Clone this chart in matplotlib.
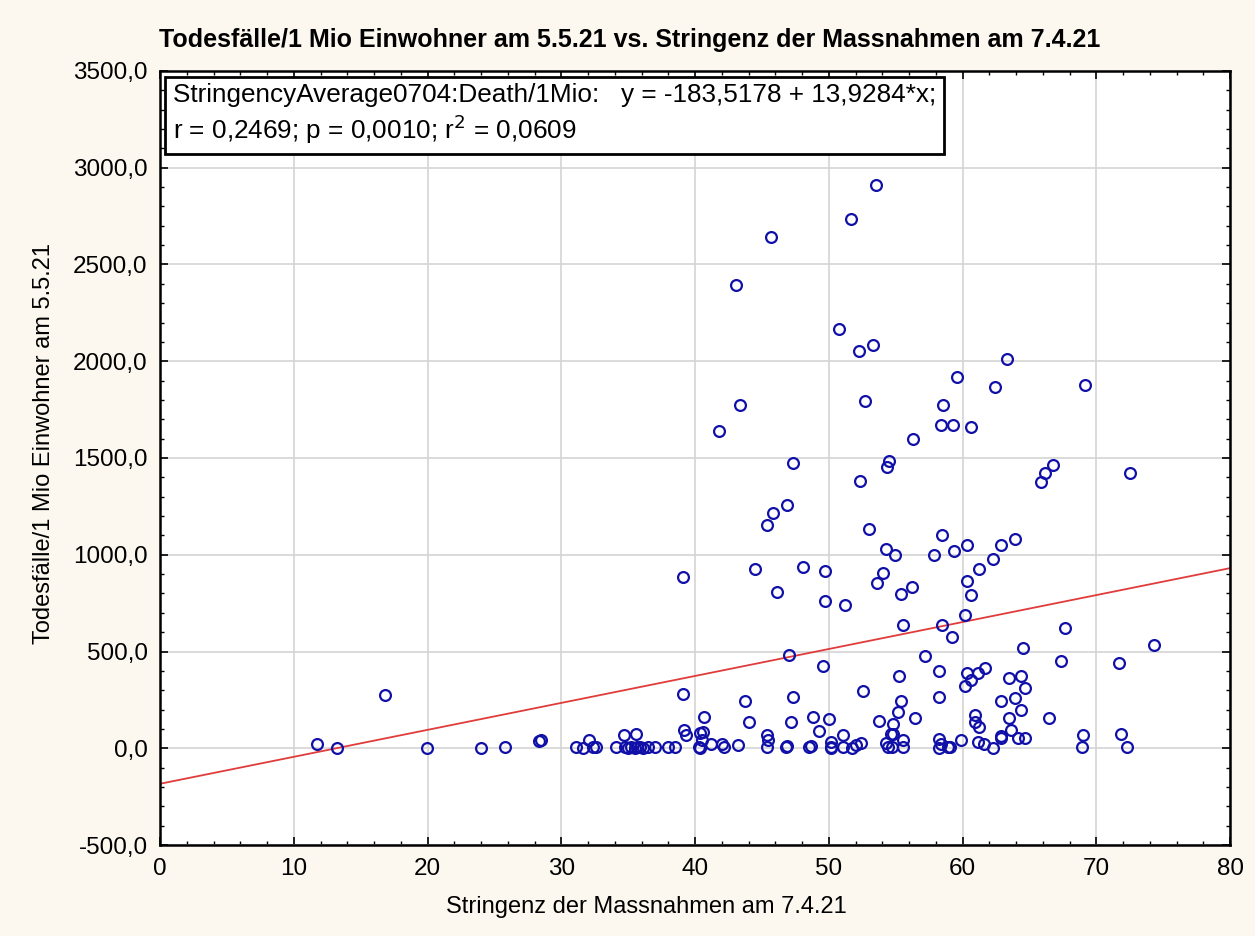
import numpy as np
import matplotlib
matplotlib.use("Agg")
import matplotlib.pyplot as plt
from matplotlib.ticker import MultipleLocator, FuncFormatter

plt.rcParams['font.family'] = ['Liberation Sans', 'DejaVu Sans']

# Stringenz der Massnahmen am 7.4.21
stringency = [
    11.7, 13.2, 16.8, 19.95, 24.0, 25.8, 28.3, 28.5,
    31.1, 31.6, 32.1, 32.4, 32.6, 34.1, 34.7, 34.8, 35.0, 35.2, 35.5, 35.6, 35.65,
    35.9, 36.1, 36.5, 37.0, 38.0, 38.5, 39.1, 39.1, 39.2, 39.35,
    40.3, 40.4, 40.4, 40.5, 40.6, 40.7, 41.2, 41.8, 42.0, 42.2, 43.1, 43.2, 43.4,
    43.7, 44.0, 44.5, 45.35, 45.4, 45.4, 45.45, 45.7, 45.8, 46.1, 46.8, 46.9,
    46.85, 47.0, 47.2, 47.3, 47.3, 48.1, 48.5, 48.7, 48.8, 49.3, 49.6, 49.7,
    49.7, 50.0, 50.2, 50.2, 50.2, 50.75, 51.05, 51.05, 51.25, 51.65, 51.7,
    52.05, 52.25, 52.3, 52.4, 52.55, 52.7, 53.0, 53.3, 53.5, 53.6, 53.75,
    54.05, 54.25, 54.25, 54.35, 54.4, 54.5, 54.65, 54.7, 54.8, 54.8, 54.95,
    55.2, 55.25, 55.4, 55.4, 55.55, 55.55, 55.55, 56.2, 56.3, 56.45, 57.2,
    57.9, 58.25, 58.25, 58.25, 58.4, 58.25, 58.5, 58.5, 58.55, 58.4, 58.9,
    59.05, 59.25, 59.3, 59.35, 59.6, 59.9, 60.15, 60.2, 60.3, 60.35, 60.35,
    60.65, 60.65, 60.65, 60.95, 60.9, 61.15, 61.15, 61.2, 61.25, 61.6, 61.7,
    62.3, 62.3, 62.4, 62.85, 62.85, 62.9, 62.9, 63.3, 63.5, 63.5, 63.6, 63.95,
    63.95, 64.15, 64.35, 64.4, 64.5, 64.7, 64.7, 65.85, 66.2, 66.45, 66.8,
    67.4, 67.65, 68.9, 69.0, 69.15, 71.7, 71.85, 72.3, 72.5, 74.3,
]

# Todesfälle/1 Mio Einwohner am 5.5.21
deaths = [
    24, 0, 275, 0, 0, 7, 38, 45,
    7, 0, 41, 7, 7, 7, 67, 7, 0, 7, 0, 76, 7,
    7, 0, 7, 7, 7, 7, 883, 281, 93, 67,
    7, 77, 0, 41, 84, 160, 24, 1639, 24, 7, 2395, 15, 1773,
    244, 138, 926, 7, 67, 1152, 41, 2643, 1215, 809, 7, 12,
    1257, 480, 138, 1474, 265, 935, 7, 12, 159, 88, 427, 914,
    759, 150, 33, 7, 0, 2166, 67, 7, 739, 2736, 0,
    15, 2052, 1380, 27, 296, 1794, 1131, 2085, 2913, 852, 139,
    904, 1029, 27, 1453, 7, 1484, 76, 7, 127, 76, 997,
    188, 375, 799, 243, 635, 41, 7, 833, 1600, 158, 479,
    997, 265, 50, 0, 1668, 398, 1100, 635, 1773, 24, 7,
    7, 573, 1668, 1019, 1918, 45, 323, 687, 1048, 863, 390,
    1660, 790, 355, 170, 136, 389, 33, 110, 925, 24, 416,
    976, 0, 1866, 1048, 62, 55, 243, 2011, 365, 158, 96, 1079,
    262, 55, 200, 375, 520, 313, 55, 1377, 1420, 158, 1463,
    449, 623, 4, 67, 1879, 439, 76, 4, 1422, 532,
]

# Regression: y = -183,5178 + 13,9284*x
intercept = -183.5178
slope = 13.9284
fit_x = [0, 80]

fig = plt.figure(figsize=(12.55, 9.36), dpi=100, facecolor='#fcf8ef')
ax = fig.add_axes([0.1275, 0.0972, 0.8526, 0.827])
ax.set_facecolor('white')

fit_y = [intercept + slope * v for v in fit_x]
ax.plot(fit_x, fit_y, color='#e03c3c', linewidth=1.3, zorder=2)
ax.plot(stringency, deaths, linestyle='none', marker='o', markersize=7.8,
        markerfacecolor='none', markeredgecolor='#1010a8', markeredgewidth=1.6, zorder=3)

ax.set_xlim(0, 80)
ax.set_ylim(-500, 3500)
ax.xaxis.set_major_locator(MultipleLocator(10))
ax.xaxis.set_minor_locator(MultipleLocator(2))
ax.yaxis.set_major_locator(MultipleLocator(500))
ax.yaxis.set_minor_locator(MultipleLocator(100))
ax.yaxis.set_major_formatter(FuncFormatter(lambda v, p: f"{v:.1f}".replace('.', ',')))
ax.tick_params(which='both', direction='in', top=True, right=True, labelsize=17.5)
ax.tick_params(which='major', length=6, width=1.2, pad=9)
ax.tick_params(which='minor', length=3, width=1)
ax.grid(True, which='major', color='#d4d4d4', linewidth=1.2, zorder=0)
ax.set_axisbelow(True)
for s in ax.spines.values():
    s.set_linewidth(1.8)

ax.set_xlabel('Stringenz der Massnahmen am 7.4.21', fontsize=17)
ax.set_ylabel('Todesfälle/1 Mio Einwohner am 5.5.21', fontsize=17)
ax.xaxis.set_label_coords(0.455, -0.066)
ax.yaxis.set_label_coords(-0.098, 0.519)
fig.text(0.502, 0.957, 'Todesfälle/1 Mio Einwohner am 5.5.21 vs. Stringenz der Massnahmen am 7.4.21',
         ha='center', va='center', fontsize=18, fontweight='bold')

ax.text(0.012, 0.9845,
        'StringencyAverage0704:Death/1Mio:   y = -183,5178 + 13,9284*x;\n'
        'r = 0,2469; p = 0,0010; r$^2$ = 0,0609',
        transform=ax.transAxes, ha='left', va='top', fontsize=18.8, linespacing=1.2,
        bbox=dict(boxstyle='square,pad=0.3', facecolor='white', edgecolor='black', linewidth=2),
        zorder=5)

fig.savefig('out.png', dpi=100, facecolor=fig.get_facecolor())
